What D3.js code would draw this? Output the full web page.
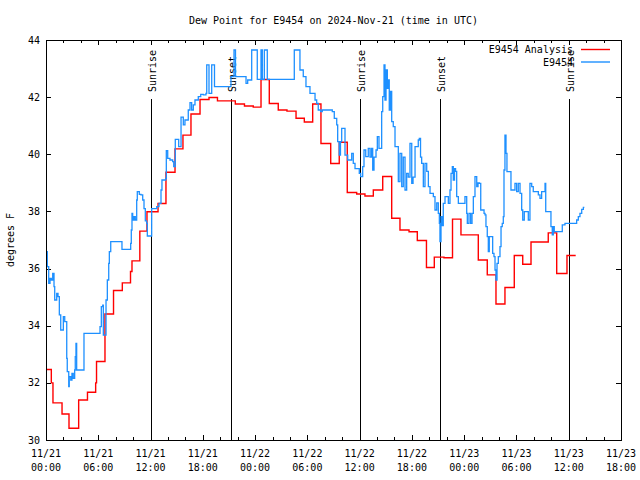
<!DOCTYPE html>
<html>
<head>
<meta charset="utf-8">
<script src="https://cdn.jsdelivr.net/npm/d3@7"></script>
<style>
  html, body { margin: 0; padding: 0; background: #ffffff; }
  svg { display: block; }
  text { font-family: "DejaVu Sans Mono", "Liberation Mono", monospace; font-size: 10px; fill: #000; }
</style>
</head>
<body>
<svg id="chart" width="640" height="480"></svg>
<script>
// ---------------- DATA ----------------
const chartTitle = "Dew Point for E9454 on 2024-Nov-21 (time in UTC)";
const yAxisLabel = "degrees F";
const seriesNames = ["E9454 Analysis", "E9454"];
// Hours since 2024-11-21 00:00 UTC
const analysisHours = [0,0.61,0.80,1.84,2.64,3.75,4.76,5.70,5.80,6.77,7.75,8.76,9.70,9.87,10.77,11.59,12.86,13.77,14.81,15.72,16.64,17.68,18.71,19.68,21.73,22.78,23.79,24.68,25.63,26.66,27.66,28.70,29.65,30.61,31.56,32.68,33.66,34.58,35.66,36.61,37.57,38.65,39.68,40.63,41.67,42.62,43.67,44.57,45.68,46.66,47.63,49.62,50.65,51.65,52.68,53.75,54.72,55.67,57.65,58.62,59.80,60.80];
const analysisValues = [32.47,32.0,31.3,30.91,30.41,31.4,31.67,32.0,32.75,34.41,35.23,35.5,35.9,36.27,37.31,37.99,38.28,39.37,40.19,40.67,41.41,41.92,41.99,41.87,41.76,41.69,41.65,42.62,41.78,41.55,41.51,41.26,41.13,41.76,40.38,39.68,40.42,38.66,38.61,38.54,38.75,39.22,37.76,37.35,37.29,36.98,36.04,36.4,36.38,37.73,37.18,36.3,35.78,34.76,35.34,36.46,36.15,36.93,37.25,35.83,36.46,36.46];

const obsHours = [0.00,0.15,0.31,0.46,0.61,0.77,0.92,1.00,1.23,1.38,1.53,1.69,1.99,2.15,2.38,2.44,2.61,2.67,2.84,2.98,3.13,3.29,3.36,3.44,3.52,4.36,6.20,6.35,6.51,6.58,6.89,7.04,7.20,7.27,7.43,8.72,9.72,9.79,9.87,9.95,10.10,10.25,10.41,10.48,10.71,10.90,11.10,11.25,11.40,11.56,11.63,12.13,12.71,12.97,13.20,13.31,13.74,13.81,13.97,14.23,14.54,14.66,14.84,15.23,15.50,15.76,15.95,16.33,16.53,16.72,16.91,17.10,17.48,17.76,18.05,18.36,18.45,18.71,19.02,19.34,21.23,21.58,21.75,22.96,23.15,23.61,24.25,24.68,24.83,25.06,25.40,28.50,29.15,29.53,29.84,30.30,30.88,31.07,31.25,31.53,31.71,32.86,33.09,33.37,33.48,33.66,33.80,33.94,34.32,34.63,35.09,35.27,35.47,35.96,36.12,36.35,36.50,36.70,36.99,37.19,37.36,37.50,37.65,37.88,38.03,38.22,38.53,38.65,38.80,38.91,39.03,39.18,39.29,39.40,39.54,39.68,39.86,40.06,40.44,40.63,40.83,41.01,41.21,41.40,41.58,41.78,41.98,42.13,42.36,42.73,42.85,42.99,43.12,43.31,43.50,43.70,43.89,44.08,44.46,44.65,44.85,45.03,45.15,45.22,45.34,45.45,45.60,45.80,46.18,46.37,46.49,46.64,46.75,46.89,47.01,47.14,47.33,48.09,48.29,48.36,48.55,48.74,48.90,49.05,49.24,49.44,49.59,49.74,49.90,50.28,50.39,50.50,50.65,50.77,50.88,51.27,51.42,51.54,51.65,51.77,51.92,52.11,52.23,52.37,52.49,52.57,52.68,52.80,52.91,53.37,53.83,54.02,54.21,54.41,54.60,54.72,54.90,55.36,55.55,55.75,55.93,56.51,56.70,56.89,57.28,57.36,57.96,58.11,58.23,58.34,59.26,59.57,60.72,60.91,61.10,61.29,61.49,61.68,61.79];
const obsValues = [36.59,36.07,35.48,35.66,35.6,35.83,35.37,34.9,35.13,35.02,34.38,33.85,34.32,34.14,32.86,32.39,31.87,32.22,32.1,32.33,32.16,32.45,32.92,33.38,32.45,33.73,33.97,34.67,34.72,33.67,34.9,35.6,36.18,36.59,36.94,36.67,36.88,37.35,37.93,37.7,37.82,37.7,38.4,38.69,38.6,38.58,38.4,38.1,37.67,37.58,37.14,38.1,38.17,38.28,38.75,39.1,39.16,40.13,39.86,39.8,39.74,39.57,40.52,40.27,41.3,41.03,41.2,41.55,41.81,41.55,41.73,41.9,42.02,42.1,42.08,42.13,43.13,42.13,43.13,42.37,42.72,43.65,42.72,42.48,42.6,43.65,42.62,43.65,42.62,43.65,42.62,43.65,42.95,42.72,42.37,42.13,41.9,41.78,41.55,41.49,41.55,41.49,41.26,41.03,40.44,39.97,40.44,40.91,39.97,39.8,40.03,39.68,39.5,39.33,39.22,39.57,40.15,39.92,40.21,39.9,40.21,39.45,39.9,40.15,40.62,40.21,41.49,42.02,43.13,41.9,42.95,42.31,42.6,41.55,42.2,41.14,40.97,40.27,39.04,40.03,38.87,39.9,38.75,39.33,39.2,40.38,38.98,39.2,40.27,40.5,40.56,39.9,39.68,38.87,39.68,39.4,38.87,38.63,38.52,38.05,38.3,37.93,37.58,36.94,37.82,37.5,38.28,38.52,38.28,38.75,39.33,39.57,39.1,39.5,39.4,38.52,38.28,38.52,37.93,37.58,37.93,37.58,37.93,38.52,39.22,38.87,39.0,38.98,38.05,37.93,37.88,37.47,37.12,36.59,37.12,36.53,36.42,35.95,35.6,36.18,36.42,36.77,37.47,37.58,37.82,39.45,40.67,40.03,39.39,38.75,38.98,38.69,38.98,38.63,38.05,37.7,37.99,37.7,38.98,38.87,38.69,38.58,38.46,38.69,38.98,37.99,37.47,37.18,37.47,37.29,37.53,37.58,37.58,37.7,37.82,37.93,38.07,38.14,38.14];

const sunEventLabels = ["Sunrise", "Sunset", "Sunrise", "Sunset", "Sunrise"];
const sunEventHours = [12.09, 21.27, 36.08, 45.26, 60.07];

const yTickValues = [30, 32, 34, 36, 38, 40, 42, 44];
const xMajorTickHours = [0, 6, 12, 18, 24, 30, 36, 42, 48, 54, 60, 66];
const xMinorTickHours = d3.range(0, 67, 2);

// ---------------- SETUP ----------------
const startMs = Date.UTC(2024, 10, 21, 0, 0);
const toDate = h => new Date(startMs + h * 3600000);

const margin = { left: 46, right: 621, top: 40, bottom: 440 };
const svg = d3.select("#chart");

const x = d3.scaleUtc()
  .domain([toDate(0), toDate(66)])
  .range([margin.left, margin.right]);
const y = d3.scaleLinear()
  .domain([30, 44])
  .range([margin.bottom, margin.top]);

const analysis = analysisHours.map((h, i) => ({ t: toDate(h), v: analysisValues[i] }));
const obs = obsHours.map((h, i) => ({ t: toDate(h), v: obsValues[i] }));

const colors = ["#ff0000", "#1e90ff"];

// Title
svg.append("text")
  .attr("x", (margin.left + margin.right) / 2)
  .attr("y", 20)
  .attr("text-anchor", "middle")
  .attr("dominant-baseline", "central")
  .text(chartTitle);

// Y label
svg.append("text")
  .attr("transform", `translate(10,${(margin.top + margin.bottom) / 2}) rotate(-90)`)
  .attr("text-anchor", "middle")
  .attr("dominant-baseline", "central")
  .text(yAxisLabel);

// Axes via d3 axis generators (ticks inward)
const fmtDay = d3.utcFormat("%m/%d");
const fmtTime = d3.utcFormat("%H:%M");

const bottomMajor = d3.axisBottom(x).tickValues(xMajorTickHours.map(toDate)).tickSize(-5).tickFormat("");
const bottomMinor = d3.axisBottom(x).tickValues(xMinorTickHours.map(toDate)).tickSize(-3).tickFormat("");
const topMajor = d3.axisTop(x).tickValues(xMajorTickHours.map(toDate)).tickSize(-5).tickFormat("");
const topMinor = d3.axisTop(x).tickValues(xMinorTickHours.map(toDate)).tickSize(-3).tickFormat("");
const leftAx = d3.axisLeft(y).tickValues(yTickValues).tickSize(-5).tickFormat("");
const rightAx = d3.axisRight(y).tickValues(yTickValues).tickSize(-5).tickFormat("");

function styleAxis(g) {
  g.select(".domain").remove();
  g.selectAll("line").attr("stroke", "#000").attr("shape-rendering", "crispEdges");
}
svg.append("g").attr("transform", `translate(0,${margin.bottom})`).call(bottomMajor).call(styleAxis);
svg.append("g").attr("transform", `translate(0,${margin.bottom})`).call(bottomMinor).call(styleAxis);
svg.append("g").attr("transform", `translate(0,${margin.top})`).call(topMajor).call(styleAxis);
svg.append("g").attr("transform", `translate(0,${margin.top})`).call(topMinor).call(styleAxis);
svg.append("g").attr("transform", `translate(${margin.left},0)`).call(leftAx).call(styleAxis);
svg.append("g").attr("transform", `translate(${margin.right},0)`).call(rightAx).call(styleAxis);

// Y tick labels
svg.append("g").selectAll("text")
  .data(yTickValues)
  .join("text")
  .attr("x", margin.left - 6)
  .attr("y", d => y(d))
  .attr("text-anchor", "end")
  .attr("dominant-baseline", "central")
  .text(d => d);

// X tick labels (two lines)
const xl = svg.append("g").selectAll("g")
  .data(xMajorTickHours.map(toDate))
  .join("g");
xl.append("text")
  .attr("x", d => x(d))
  .attr("y", 453)
  .attr("text-anchor", "middle")
  .attr("dominant-baseline", "central")
  .text(d => fmtDay(d));
xl.append("text")
  .attr("x", d => x(d))
  .attr("y", 467)
  .attr("text-anchor", "middle")
  .attr("dominant-baseline", "central")
  .text(d => fmtTime(d));

// Sun event lines and labels
const sun = svg.append("g").selectAll("g")
  .data(sunEventHours.map((h, i) => ({ t: toDate(h), label: sunEventLabels[i] })))
  .join("g");
sun.append("line")
  .attr("x1", d => Math.round(x(d.t)) + 0.5)
  .attr("x2", d => Math.round(x(d.t)) + 0.5)
  .attr("y1", 99)
  .attr("y2", margin.bottom)
  .attr("stroke", "#000")
  .attr("stroke-width", 1);
sun.append("text")
  .attr("transform", d => `translate(${Math.round(x(d.t)) + 1},92) rotate(-90)`)
  .attr("text-anchor", "start")
  .attr("dominant-baseline", "central")
  .text(d => d.label);

// Data lines
const line = d3.line()
  .x(d => x(d.t))
  .y(d => y(d.v))
  .curve(d3.curveStepAfter);

svg.append("path")
  .datum(analysis)
  .attr("fill", "none")
  .attr("stroke", colors[0])
  .attr("stroke-width", 1.4)
  .attr("d", line);

svg.append("path")
  .datum(obs)
  .attr("fill", "none")
  .attr("stroke", colors[1])
  .attr("stroke-width", 1.3)
  .attr("d", line);

// Border
svg.append("rect")
  .attr("x", margin.left + 0.5)
  .attr("y", margin.top + 0.5)
  .attr("width", margin.right - margin.left)
  .attr("height", margin.bottom - margin.top)
  .attr("fill", "none")
  .attr("stroke", "#000")
  .attr("stroke-width", 1)
  .attr("shape-rendering", "crispEdges");

// Legend
const legendY = [49.5, 62];
const lg = svg.append("g").selectAll("g")
  .data(seriesNames)
  .join("g");
lg.append("text")
  .attr("x", 573)
  .attr("y", (d, i) => legendY[i])
  .attr("text-anchor", "end")
  .attr("dominant-baseline", "central")
  .text(d => d);
lg.append("line")
  .attr("x1", 581)
  .attr("x2", 610)
  .attr("y1", (d, i) => legendY[i])
  .attr("y2", (d, i) => legendY[i])
  .attr("stroke", (d, i) => colors[i])
  .attr("stroke-width", 1.4);
</script>
</body>
</html>
